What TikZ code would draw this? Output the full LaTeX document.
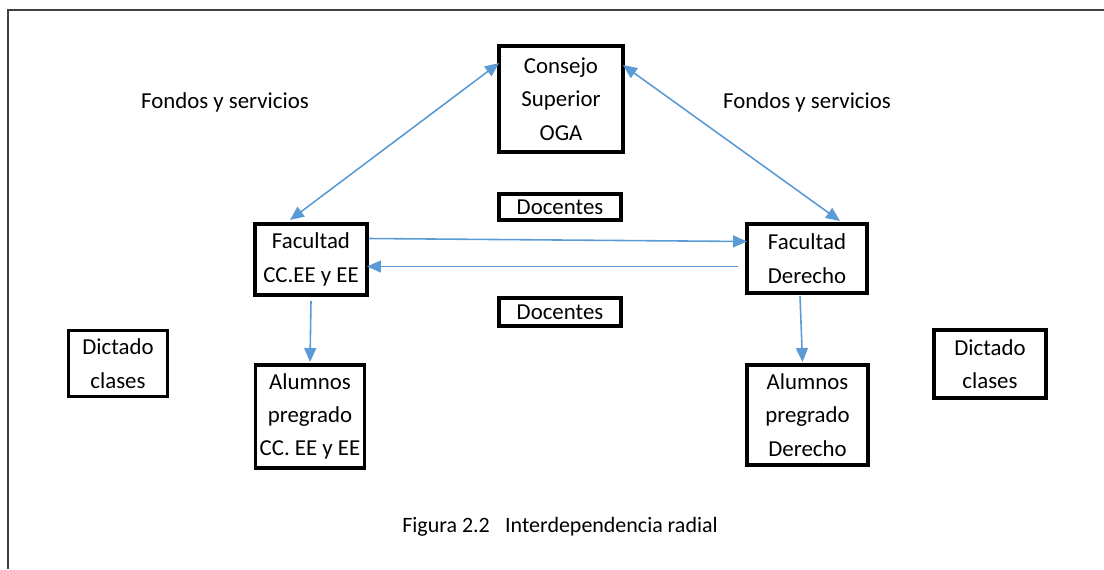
\documentclass[tikz,border=0pt]{standalone}
\usepackage{fontspec}
\setmainfont{Carlito}
\usetikzlibrary{calc, positioning, arrows.meta}
\definecolor{flecha}{HTML}{5B9BD5}

\begin{document}
\begin{tikzpicture}[x=0.02cm,y=-0.02cm,
                    box node/.style={draw,line width=2.2pt,outer sep=0pt,inner sep=0pt,
                                     align=center,font=\fontsize{13}{19}\selectfont},
                    text node/.style={font=\fontsize{13}{19}\selectfont},
                    flecha/.style={draw=flecha,line width=0.9pt,
                                   -{Triangle[length=0.28cm,width=0.24cm]}},
                    doble/.style={flecha,{Triangle[length=0.28cm,width=0.24cm]}-{Triangle[length=0.28cm,width=0.24cm]}}]

  \useasboundingbox (0,0) rectangle (1104,569);
  \draw[line width=1pt,black!75] (8,569) -- (8,10) -- (1104,10);

  % boxes
  \node[box node,minimum width=2.48cm,minimum height=2.12cm] (consejo) at (561,99) {Consejo\\Superior\\OGA};
  \node[box node,minimum width=2.44cm,minimum height=0.52cm] (doc1) at (560,207) {Docentes};
  \node[box node,minimum width=2.44cm,minimum height=0.56cm] (doc2) at (560,312) {Docentes};
  \node[box node,minimum width=2.24cm,minimum height=1.42cm] (fcc) at (311,259.5) {Facultad\\CC.EE y EE};
  \node[box node,minimum width=2.40cm,minimum height=1.38cm] (fder) at (807,258.5) {Facultad\\Derecho};
  \node[box node,minimum width=1.98cm,minimum height=1.32cm] (dicl) at (118,363.5) {Dictado\\clases};
  \node[box node,minimum width=2.24cm,minimum height=1.36cm] (dicr) at (990,364) {Dictado\\clases};
  \node[box node,minimum width=2.18cm,minimum height=2.06cm] (acc) at (310,416.5) {Alumnos\\pregrado\\CC. EE y EE};
  \node[box node,minimum width=2.42cm,minimum height=2.00cm] (ader) at (807.5,415) {Alumnos\\pregrado\\Derecho};

  % labels
  \node[text node] (fondl) at (225,102) {Fondos y servicios};
  \node[text node] (fondr) at (807,102) {Fondos y servicios};
  \node[font=\fontsize{12.5}{14}\selectfont] (caption) at (560,527) {Figura 2.2\hspace{0.7em}Interdependencia radial};

  % connectors
  \draw[doble] ($(consejo.north west)+(0,17)$) -- ($(fcc.north)+(-21,-4)$);
  \draw[doble] ($(consejo.north east)+(0,19)$) -- ($(fder.north)+(33,-3)$);
  \draw[flecha] ($(fcc.east)+(2,-21)$) -- ($(fder.west)+(0,-17)$);
  \draw[flecha] ($(fder.west)+(-9,8)$) -- ($(fcc.east)+(0,7)$);
  \draw[flecha] ($(fcc.south)+(0,6)$) -- ($(acc.north)+(0,-3)$);
  \draw[flecha] ($(fder.south)+(-7,3)$) -- ($(ader.north)+(-5,-3)$);

\end{tikzpicture}
\end{document}
